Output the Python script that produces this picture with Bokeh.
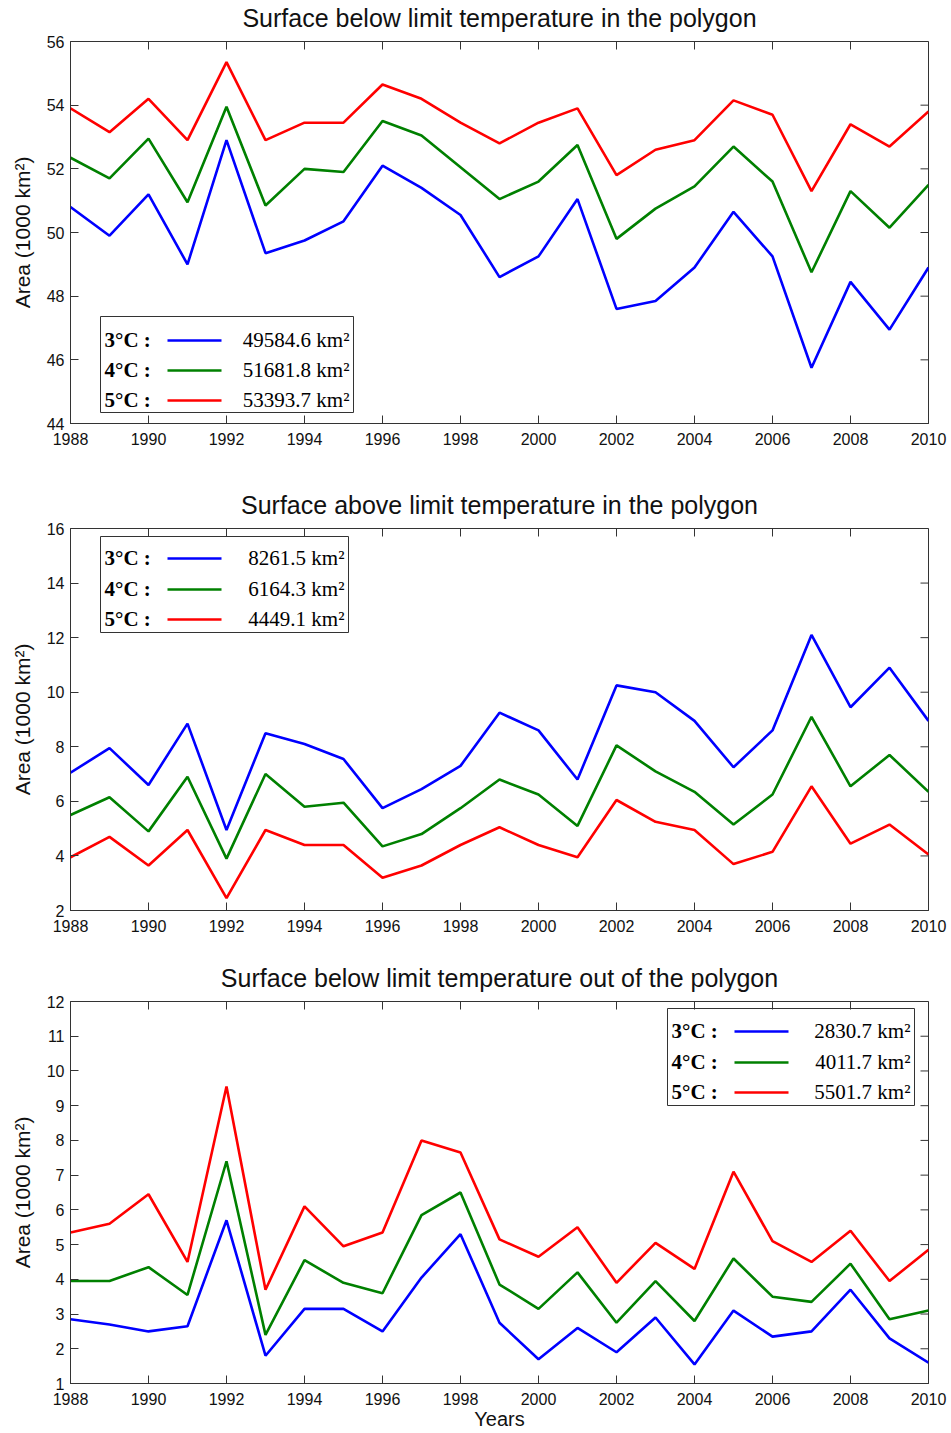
from bokeh.plotting import figure
from bokeh.models import Range1d, FixedTicker, Label, BoxAnnotation
from bokeh.layouts import column
from bokeh.embed import file_html
from bokeh.resources import INLINE

years = [1988, 1989, 1990, 1991, 1992, 1993, 1994, 1995, 1996, 1997, 1998, 1999,
         2000, 2001, 2002, 2003, 2004, 2005, 2006, 2007, 2008, 2009, 2010]
x_ticks = [1988, 1990, 1992, 1994, 1996, 1998, 2000, 2002, 2004, 2006, 2008, 2010]

# Panel 1: surface below limit temperature in the polygon (1000 km2)
in_below_3 = [50.8, 49.9, 51.2, 49.0, 52.9, 49.35, 49.75, 50.35, 52.1, 51.4, 50.55, 48.6,
              49.25, 51.05, 47.6, 47.85, 48.9, 50.65, 49.25, 45.75, 48.45, 46.95, 48.9]
in_below_4 = [52.35, 51.7, 52.95, 50.95, 53.95, 50.85, 52.0, 51.9, 53.5, 53.05, 52.05, 51.05,
              51.6, 52.75, 49.8, 50.75, 51.45, 52.7, 51.6, 48.75, 51.3, 50.15, 51.5]
in_below_5 = [53.9, 53.15, 54.2, 52.9, 55.35, 52.9, 53.45, 53.45, 54.65, 54.2, 53.45, 52.8,
              53.45, 53.9, 51.8, 52.6, 52.9, 54.15, 53.7, 51.3, 53.4, 52.7, 53.8]
in_below_legend = ["49584.6 km\u00b2", "51681.8 km\u00b2", "53393.7 km\u00b2"]
in_below_yticks = [44, 46, 48, 50, 52, 54, 56]

# Panel 2: surface above limit temperature in the polygon
in_above_3 = [7.05, 7.95, 6.6, 8.85, 4.95, 8.5, 8.1, 7.55, 5.75, 6.45, 7.3, 9.25,
              8.6, 6.8, 10.25, 10.0, 8.95, 7.25, 8.6, 12.1, 9.45, 10.9, 8.95]
in_above_4 = [5.5, 6.15, 4.9, 6.9, 3.9, 7.0, 5.8, 5.95, 4.35, 4.8, 5.75, 6.8,
              6.25, 5.1, 8.05, 7.1, 6.35, 5.15, 6.25, 9.1, 6.55, 7.7, 6.35]
in_above_5 = [3.95, 4.7, 3.65, 4.95, 2.45, 4.95, 4.4, 4.4, 3.2, 3.65, 4.4, 5.05,
              4.4, 3.95, 6.05, 5.25, 4.95, 3.7, 4.15, 6.55, 4.45, 5.15, 4.05]
in_above_legend = ["8261.5 km\u00b2", "6164.3 km\u00b2", "4449.1 km\u00b2"]
in_above_yticks = [2, 4, 6, 8, 10, 12, 14, 16]

# Panel 3: surface below limit temperature out of the polygon
out_below_3 = [2.85, 2.7, 2.5, 2.65, 5.7, 1.8, 3.15, 3.15, 2.5, 4.05, 5.3, 2.75,
               1.7, 2.6, 1.9, 2.9, 1.55, 3.1, 2.35, 2.5, 3.7, 2.3, 1.6]
out_below_4 = [3.95, 3.95, 4.35, 3.55, 7.4, 2.4, 4.55, 3.9, 3.6, 5.85, 6.5, 3.85,
               3.15, 4.2, 2.75, 3.95, 2.8, 4.6, 3.5, 3.35, 4.45, 2.85, 3.1]
out_below_5 = [5.35, 5.6, 6.45, 4.5, 9.55, 3.7, 6.1, 4.95, 5.35, 8.0, 7.65, 5.15,
               4.65, 5.5, 3.9, 5.05, 4.3, 7.1, 5.1, 4.5, 5.4, 3.95, 4.85]
out_below_legend = ["2830.7 km\u00b2", "4011.7 km\u00b2", "5501.7 km\u00b2"]
out_below_yticks = [1, 2, 3, 4, 5, 6, 7, 8, 9, 10, 11, 12]

legend_labels = ["3\u00b0C :", "4\u00b0C :", "5\u00b0C :"]
colors = ["#0000ff", "#008000", "#ff0000"]

FW, FH = 858, 382
FL = 70
SANS = "Liberation Sans"
SERIF = "Liberation Serif"
AX = "#333333"
TICK = 8


def style_axis(ax, ticks, standoff):
    ax.ticker = FixedTicker(ticks=ticks)
    ax.major_tick_in = TICK
    ax.major_tick_out = 0
    ax.minor_tick_line_color = None
    ax.axis_line_color = AX
    ax.major_tick_line_color = AX
    ax.major_label_text_font = SANS
    ax.major_label_text_color = "#111111"
    ax.major_label_standoff = standoff
    ax.major_label_text_font_size = "16px"


def make_panel(title, series, ymin, ymax, yticks, legend_vals, box, frame_top_page,
               top, bottom, xlabel=None, margin=0):
    p = figure(frame_width=FW, frame_height=FH, min_border_left=FL, min_border_right=23,
               min_border_top=top, min_border_bottom=bottom,
               x_range=Range1d(1988, 2010), y_range=Range1d(ymin, ymax),
               output_backend="svg", toolbar_location=None)
    p.margin = (margin, 0, 0, 0)
    p.xgrid.visible = False
    p.ygrid.visible = False
    p.outline_line_color = AX
    p.background_fill_color = "white"
    p.border_fill_color = "white"

    p.title.text = title
    p.title.align = "center"
    p.title.text_font = SANS
    p.title.text_font_size = "25px"
    p.title.text_font_style = "normal"
    p.title.text_color = "#111111"
    p.title.standoff = 20

    for s, c in zip(series, colors):
        p.line(years, s, line_color=c, line_width=2.6)

    style_axis(p.xaxis[0], x_ticks, 9)
    style_axis(p.yaxis[0], yticks, 6)
    p.yaxis[0].axis_label = "Area (1000 km\u00b2)"
    p.yaxis[0].axis_label_text_font = SANS
    p.yaxis[0].axis_label_text_font_size = "21px"
    p.yaxis[0].axis_label_text_font_style = "normal"
    p.yaxis[0].axis_label_text_color = "#111111"
    p.yaxis[0].axis_label_standoff = 10
    if xlabel:
        p.xaxis[0].axis_label = xlabel
        p.xaxis[0].axis_label_text_font = SANS
        p.xaxis[0].axis_label_text_font_size = "20px"
        p.xaxis[0].axis_label_text_font_style = "normal"
        p.xaxis[0].axis_label_text_color = "#111111"
        p.xaxis[0].axis_label_standoff = 0

    dx = 22.0 / FW
    dy = (ymax - ymin) / FH

    def X(px):
        return 1988 + (px - FL) * dx

    def Y(py):
        return ymax - (py - frame_top_page) * dy

    # ticks on the top and right edges of the box (inward)
    p.segment(x0=x_ticks, y0=[ymax] * len(x_ticks), x1=x_ticks,
              y1=[ymax - TICK * dy] * len(x_ticks), line_color=AX, line_width=1)
    p.segment(x0=[2010] * len(yticks), y0=yticks, x1=[2010 - TICK * dx] * len(yticks),
              y1=yticks, line_color=AX, line_width=1)

    # legend
    bl, bt, br, bb, rows = box
    p.add_layout(BoxAnnotation(left=X(bl), right=X(br), top=Y(bt), bottom=Y(bb),
                               fill_alpha=0, line_color=AX, line_width=1,
                               line_alpha=1))
    for lab, val, c, ry in zip(legend_labels, legend_vals, colors, rows):
        p.segment(x0=[X(bl + 67)], y0=[Y(ry)], x1=[X(bl + 121)], y1=[Y(ry)],
                  line_color=c, line_width=2.6)
        p.add_layout(Label(x=X(bl + 4), y=Y(ry - 1), text=lab, text_align="left",
                           text_baseline="middle", text_font=SERIF,
                           text_font_style="bold", text_font_size="21px",
                           text_color="#000000"))
        p.add_layout(Label(x=X(br - 4), y=Y(ry - 1), text=val, text_align="right",
                           text_baseline="middle", text_font=SERIF,
                           text_font_size="21px", text_color="#000000"))
    return p


p1 = make_panel("Surface below limit temperature in the polygon",
                [in_below_3, in_below_4, in_below_5], 44, 56, in_below_yticks,
                in_below_legend, (100, 316, 353, 412, [340, 370, 400]), 41, 41, 47,
                margin=-9)
p2 = make_panel("Surface above limit temperature in the polygon",
                [in_above_3, in_above_4, in_above_5], 2, 16, in_above_yticks,
                in_above_legend, (100, 536, 348, 632, [558, 589, 619]), 528, 58, 40)
p3 = make_panel("Surface below limit temperature out of the polygon",
                [out_below_3, out_below_4, out_below_5], 1, 12, out_below_yticks,
                out_below_legend, (667, 1008, 914, 1105, [1031, 1062, 1092]), 1001, 51, 50,
                xlabel="Years")

layout = column(p1, p2, p3, spacing=0)
open("out.html", "w").write(file_html(layout, INLINE))
